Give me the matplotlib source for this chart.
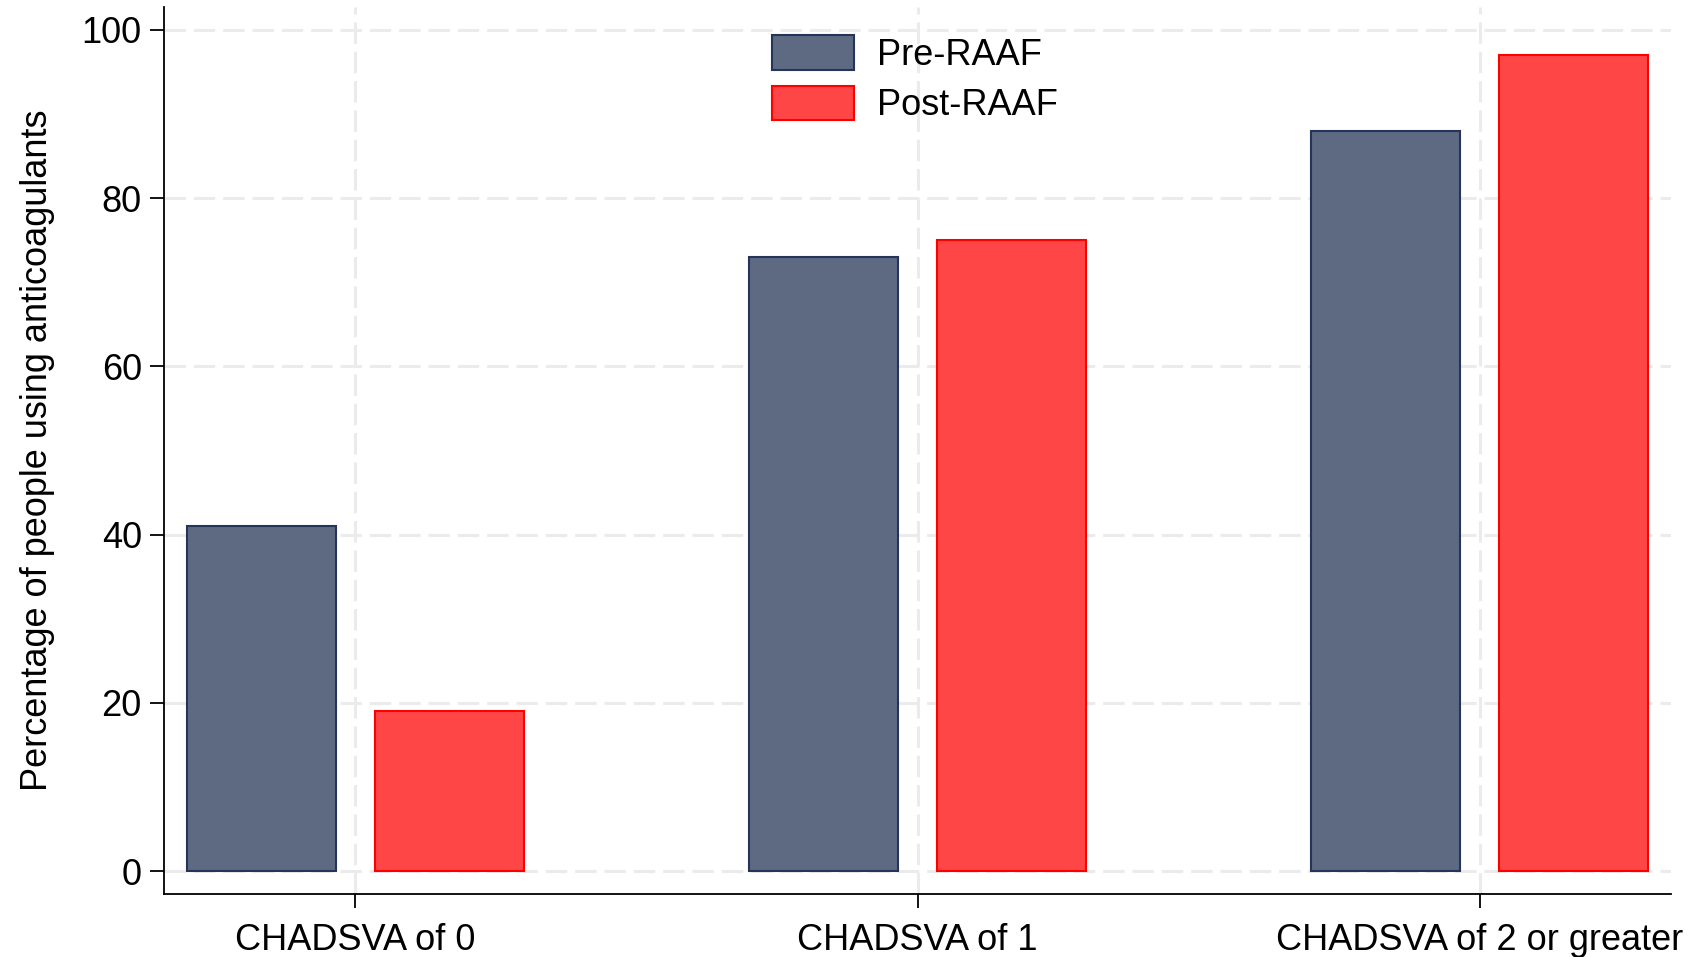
import numpy as np
import matplotlib
matplotlib.use("Agg")
import matplotlib.pyplot as plt

# data
categories = ["CHADSVA of 0", "CHADSVA of 1", "CHADSVA of 2 or greater"]
pre_raaf = [41, 73, 88]
post_raaf = [19, 75, 97]
series_names = ["Pre-RAAF", "Post-RAAF"]
y_ticks = [0, 20, 40, 60, 80, 100]

plt.rcParams["font.family"] = ["Liberation Sans", "DejaVu Sans"]

fig = plt.figure(figsize=(16.93, 9.57), dpi=100)
ax = fig.add_axes([0.0969, 0.0658, 0.8901, 0.9269])

x = np.arange(len(categories))
width = 0.265
offset = 0.167
grid_style = dict(color="#ebebeb", linewidth=2.2, linestyle=(0, (7, 2.6)), zorder=0)

for t in y_ticks:
    ax.axhline(t, **grid_style)
for xi in x:
    ax.axvline(xi, **grid_style)

ax.bar(x - offset, pre_raaf, width, color="#5d6a82", edgecolor="#26345a",
       linewidth=1.5, label=series_names[0], zorder=2)
ax.bar(x + offset, post_raaf, width, color="#ff4646", edgecolor="#ff0000",
       linewidth=1.5, label=series_names[1], zorder=2)

ax.set_xlim(-0.34, 2.34)
ax.set_ylim(-2.7, 102.7)
ax.set_xticks(x)
ax.set_xticklabels(categories)
ax.set_yticks(y_ticks)
ax.tick_params(axis="both", labelsize=26, length=10, width=1.3, colors="black")
ax.tick_params(axis="x", pad=11)
ax.tick_params(axis="y", pad=6)
ax.set_ylabel("Percentage of people using anticoagulants", fontsize=26, labelpad=19)

for side in ["top", "right"]:
    ax.spines[side].set_visible(False)
for side in ["left", "bottom"]:
    ax.spines[side].set_linewidth(1.3)

ax.legend(loc="upper left", bbox_to_anchor=(0.456, 0.9635), bbox_transform=fig.transFigure,
          frameon=False, fontsize=26, handlelength=2.28, handleheight=1.1,
          handletextpad=0.64, labelspacing=0.36, borderpad=0, borderaxespad=0)

fig.savefig("out.png", dpi=100)
